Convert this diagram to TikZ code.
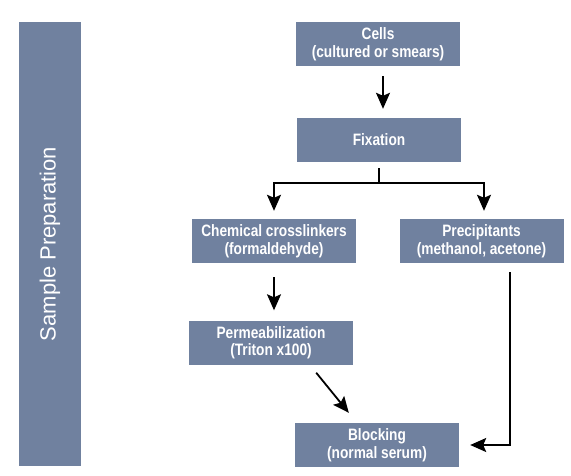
\documentclass[tikz,border=0pt]{standalone}
\usepackage{fontspec}
\setmainfont{Liberation Sans}
\newfontface\stepfont[FakeStretch=0.83]{Liberation Sans Bold}
\usetikzlibrary{arrows.meta}
\definecolor{slate}{RGB}{112,129,159}

\begin{document}
\begin{tikzpicture}[x=1pt,y=-1pt]
\tikzset{every node/.style={inner sep=0pt}}
\tikzset{stepbox/.style={fill=slate,text=white,minimum width=164pt,minimum height=44pt,align=center,font=\stepfont\fontsize{16.5}{17.5}\selectfont}}
\tikzset{sidebar/.style={fill=slate,text=white,rotate=90,minimum width=444pt,minimum height=62pt,font=\fontsize{22}{24}\selectfont}}
\tikzset{link/.style={line width=1.8pt}}
\tikzset{arr/.style={link,-{Stealth[length=16pt,width=14pt,inset=3pt]}}}
\useasboundingbox (0,0) rectangle (571,475);
\node[sidebar] (side) at (50,244) {Sample Preparation};
\node[stepbox] (cells) at (378,44) {Cells\\(cultured or smears)};
\node[stepbox] (fix) at (379,140) {Fixation};
\node[stepbox] (chem) at (274,241) {Chemical crosslinkers\\(formaldehyde)};
\node[stepbox] (prec) at (481.5,241) {Precipitants\\(methanol, acetone)};
\node[stepbox] (perm) at (271,342.5) {Permeabilization\\(Triton x100)};
\node[stepbox] (block) at (377,445) {Blocking\\(normal serum)};
\draw[arr] ([xshift=5pt,yshift=-10pt]cells.south) -- ([xshift=4pt,yshift=9pt]fix.north);
\draw[link] ([yshift=-6pt]fix.south) -- ++(0pt,-15pt) coordinate (split);
\draw[arr] (split) -| ([yshift=8pt]chem.north);
\draw[arr] (split) -| ([xshift=2.5pt,yshift=8pt]prec.north);
\draw[arr] ([yshift=-14pt]chem.south) -- ([xshift=3pt,yshift=10pt]perm.north);
\draw[arr] ([xshift=-37pt,yshift=-8pt]perm.south east) -- ([xshift=54pt,yshift=10pt]block.north west);
\draw[arr] ([xshift=28.5pt,yshift=-9pt]prec.south) |- ([xshift=11pt]block.east);
\end{tikzpicture}
\end{document}
